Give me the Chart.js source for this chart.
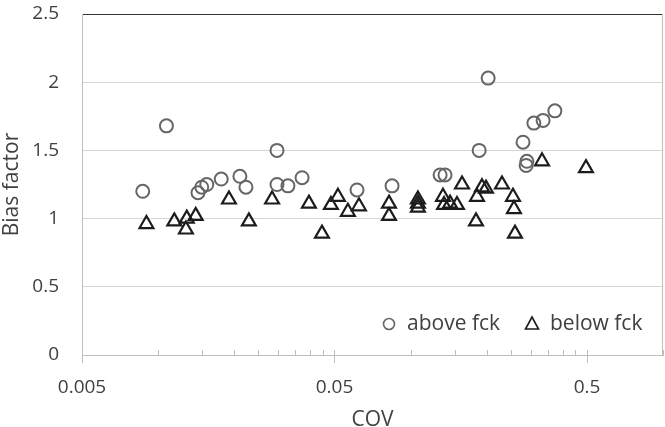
<!DOCTYPE html>
<html>
<head>
<meta charset="utf-8">
<script src="https://cdn.jsdelivr.net/npm/chart.js@4.4.1/dist/chart.umd.min.js"></script>
<style>
  html, body { margin: 0; padding: 0; background: #fff; }
  #wrap { width: 665px; height: 427px; }
</style>
</head>
<body>
<div id="wrap"><canvas id="myChart" width="665" height="427"></canvas></div>
<script>
// values
const seriesNames = ['above fck', 'below fck'];
const covAbove = [0.0087, 0.0108, 0.0144, 0.0149, 0.0156, 0.0178, 0.0211, 0.0223, 0.0296, 0.0296, 0.0327, 0.0372,
  0.0614, 0.0845, 0.131, 0.137, 0.187, 0.203, 0.279, 0.289, 0.287, 0.308, 0.335, 0.373];
const biasAbove = [1.20, 1.68, 1.19, 1.23, 1.25, 1.29, 1.31, 1.23, 1.50, 1.25, 1.24, 1.30,
  1.21, 1.24, 1.32, 1.32, 1.50, 2.03, 1.56, 1.42, 1.39, 1.70, 1.72, 1.79];
const covBelow = [0.0090, 0.0116, 0.0129, 0.0130, 0.0141, 0.0191, 0.0229, 0.0283, 0.0396, 0.0446, 0.0484, 0.0516,
  0.0565, 0.0625, 0.0822, 0.0822, 0.107, 0.107, 0.107, 0.1345, 0.1358, 0.1434, 0.1528, 0.160,
  0.1817, 0.1834, 0.1919, 0.199, 0.2303, 0.2546, 0.2569, 0.2593, 0.3318, 0.4954];
const biasBelow = [0.96, 0.98, 0.92, 1.00, 1.02, 1.14, 0.98, 1.14, 1.11, 0.89, 1.10, 1.16,
  1.05, 1.09, 1.11, 1.02, 1.14, 1.11, 1.08, 1.16, 1.10, 1.11, 1.10, 1.25,
  0.98, 1.16, 1.23, 1.22, 1.25, 1.16, 1.07, 0.89, 1.42, 1.37];
const xMajorTicks = [0.005, 0.05, 0.5];
const xMinorSteps = [2, 3, 4, 5, 6, 7, 8, 9]; // multiples of the decade start, like Excel
const yTicks = [0, 0.5, 1, 1.5, 2, 2.5];

const FONT = "'Open Sans', 'Liberation Sans', sans-serif";
const TEXT = '#404040';
const AXIS = '#bfbfbf';

const toPoints = (xs, ys) => xs.map((x, i) => ({ x: x, y: ys[i] }));

// tick marks across the x axis line, minor ones short
const axisMarks = {
  id: 'axisMarks',
  afterDatasetsDraw(chart) {
    const { ctx, chartArea } = chart;
    const sx = chart.scales.x;
    ctx.save();
    ctx.strokeStyle = AXIS;
    ctx.lineWidth = 1;
    // right edge of the plot
    ctx.beginPath();
    ctx.moveTo(chartArea.right - 0.5, chartArea.top);
    ctx.lineTo(chartArea.right - 0.5, chartArea.bottom);
    ctx.stroke();
    sx.ticks.forEach(t => {
      const px = Math.round(sx.getPixelForValue(t.value)) + 0.5;
      const major = xMajorTicks.indexOf(t.value) >= 0;
      ctx.beginPath();
      ctx.moveTo(px, chartArea.bottom - 5);
      ctx.lineTo(px, chartArea.bottom + (major ? 8 : 1));
      ctx.stroke();
    });
    ctx.restore();
  }
};

// legend in the lower right of the plot
const innerLegend = {
  id: 'innerLegend',
  afterDraw(chart) {
    const { ctx, chartArea } = chart;
    const y = chartArea.bottom - 31;
    let x = chartArea.right - 274;
    ctx.save();
    ctx.font = '21px ' + FONT;
    ctx.fillStyle = TEXT;
    ctx.textBaseline = 'middle';
    chart.data.datasets.forEach((ds, i) => {
      ctx.strokeStyle = ds.borderColor;
      ctx.lineWidth = 1.6;
      ctx.beginPath();
      if (ds.pointStyle === 'circle') {
        ctx.arc(x, y, 5.5, 0, Math.PI * 2);
      } else {
        ctx.moveTo(x, y - 7);
        ctx.lineTo(x + 6.5, y + 5);
        ctx.lineTo(x - 6.5, y + 5);
        ctx.closePath();
      }
      ctx.stroke();
      ctx.fillText(ds.label, x + 18, y);
      x += 143;
    });
    ctx.restore();
  }
};

const ctx = document.getElementById('myChart');
// eslint-disable-next-line no-unused-vars
const myChart = new Chart(ctx, {
  type: 'scatter',
  data: {
    datasets: [{
      label: seriesNames[0],
      data: toPoints(covAbove, biasAbove),
      pointStyle: 'circle',
      pointRadius: 6.5,
      pointHoverRadius: 6.5,
      borderWidth: 2,
      borderColor: '#666666',
      backgroundColor: 'transparent'
    }, {
      label: seriesNames[1],
      data: toPoints(covBelow, biasBelow),
      pointStyle: 'triangle',
      pointRadius: 8,
      pointHoverRadius: 8,
      borderWidth: 2.2,
      borderColor: '#1c1c1c',
      backgroundColor: 'transparent'
    }]
  },
  options: {
    responsive: false,
    animation: false,
    layout: { autoPadding: false, padding: { top: 14, right: 2, left: 0, bottom: 0 } },
    plugins: {
      legend: { display: false },
      tooltip: { enabled: false }
    },
    scales: {
      x: {
        type: 'logarithmic',
        min: 0.005,
        max: 1,
        afterBuildTicks(scale) {
          const ticks = [];
          xMajorTicks.forEach(m => {
            ticks.push({ value: m });
            xMinorSteps.forEach(s => {
              const v = +(m * s).toPrecision(3);
              if (v <= 1) ticks.push({ value: v });
            });
          });
          scale.ticks = ticks;
        },
        afterFit(scale) {
          scale.height = 72;
          scale.paddingLeft = 0;
          scale.paddingRight = 0;
        },
        grid: { display: false, drawTicks: false },
        border: { display: true, color: AXIS, width: 1 },
        ticks: {
          autoSkip: false,
          maxRotation: 0,
          padding: 21,
          color: TEXT,
          font: { family: FONT, size: 19 },
          callback: v => xMajorTicks.indexOf(v) >= 0 ? String(v) : ''
        },
        title: {
          display: true,
          text: 'COV',
          color: TEXT,
          font: { family: FONT, size: 21, lineHeight: 1 },
          padding: { top: 0, bottom: -4 }
        }
      },
      y: {
        min: 0,
        max: 2.5,
        afterBuildTicks(scale) { scale.ticks = yTicks.map(v => ({ value: v })); },
        afterFit(scale) {
          scale.width = 82;
          scale.paddingTop = 0;
          scale.paddingBottom = 0;
        },
        grid: {
          drawTicks: false,
          color: c => c.tick && c.tick.value === 2.5 ? '#333333' : '#d6d6d6',
          lineWidth: 1
        },
        border: { display: true, color: AXIS, width: 1 },
        ticks: {
          padding: 23,
          color: TEXT,
          font: { family: FONT, size: 19 },
          callback: v => String(v)
        },
        title: {
          display: true,
          text: 'Bias factor',
          color: TEXT,
          font: { family: FONT, size: 21, lineHeight: 1 },
          padding: { top: 2, bottom: 0 }
        }
      }
    }
  },
  plugins: [axisMarks, innerLegend]
});
</script>
</body>
</html>
